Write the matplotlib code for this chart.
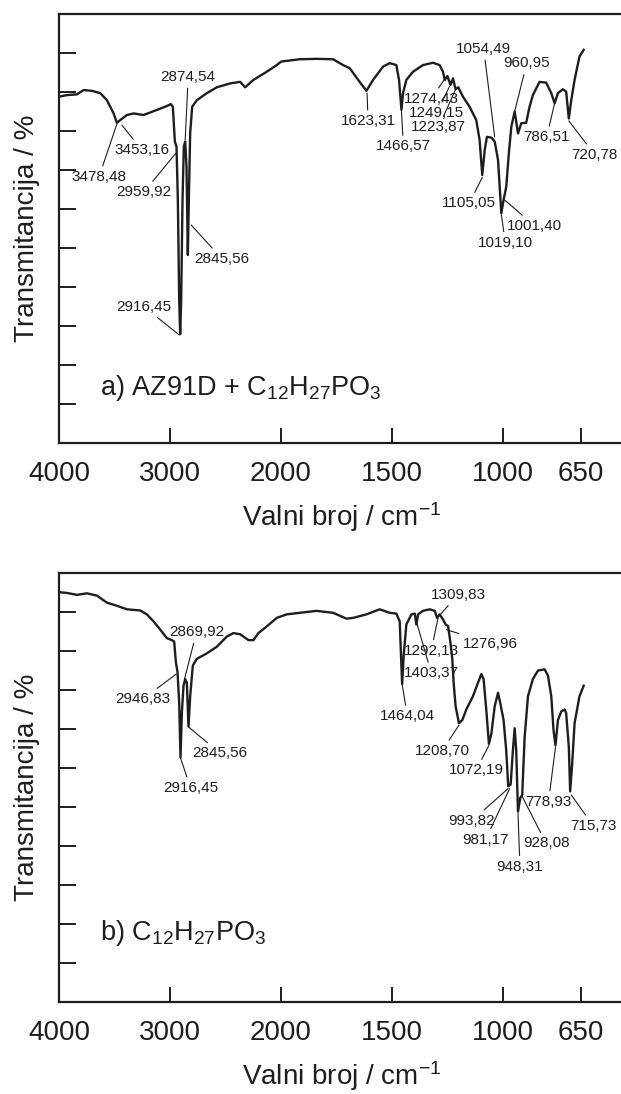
import numpy as np
import matplotlib
matplotlib.use("Agg")
import matplotlib.pyplot as plt

plt.rcParams["font.family"] = "Liberation Sans"
plt.rcParams["mathtext.fontset"] = "custom"
plt.rcParams["mathtext.rm"] = "Liberation Sans"
plt.rcParams["mathtext.it"] = "Liberation Sans:italic"
plt.rcParams["mathtext.bf"] = "Liberation Sans:bold"

INK = "#1e1e1e"

# --- spectrum a) AZ91D + C12H27PO3 (wavenumber / cm-1, transmittance in axis units) ---
wn_a = [4000, 3928, 3838, 3778, 3703, 3628, 3568, 3508, 3478, 3448, 3388, 3328, 3238, 3118,
        3028, 2992, 2974, 2956, 2941, 2929, 2917, 2908, 2899, 2887, 2875, 2863, 2851, 2839,
        2830, 2818, 2800, 2758, 2668, 2578, 2458, 2368, 2323, 2248, 2128, 2038, 1999, 1915,
        1840, 1765, 1720, 1690, 1652, 1615, 1585, 1540, 1510, 1480, 1468, 1457, 1450, 1435,
        1405, 1360, 1315, 1285, 1270, 1262, 1250, 1236, 1225, 1213, 1201, 1180, 1150, 1120,
        1105, 1093, 1082, 1072, 1052, 1037, 1022, 1007, 997, 985, 972, 962, 947, 932, 917,
        895, 880, 865, 835, 805, 782, 767, 752, 730, 715, 703, 692, 677, 655, 636]
tr_a = [8.88, 8.92, 8.94, 9.05, 9.03, 8.97, 8.79, 8.45, 8.21, 8.28, 8.41, 8.45, 8.41, 8.54,
        8.64, 8.69, 8.62, 7.73, 7.60, 6.23, 3.67, 2.79, 3.67, 6.23, 7.60, 7.73, 7.09, 4.82,
        6.23, 7.94, 8.62, 8.79, 8.97, 9.12, 9.22, 9.26, 9.12, 9.31, 9.52, 9.69, 9.78, 9.84,
        9.85, 9.84, 9.69, 9.61, 9.31, 9.03, 9.31, 9.65, 9.74, 9.69, 9.31, 8.54, 8.97, 9.31,
        9.52, 9.69, 9.75, 9.69, 9.52, 9.31, 9.41, 9.18, 9.35, 9.07, 9.12, 8.88, 8.62, 8.28,
        7.77, 6.87, 7.51, 7.85, 7.83, 7.73, 7.26, 5.89, 6.23, 6.57, 7.51, 8.11, 8.50, 7.94, 8.20,
        8.21, 8.62, 8.92, 9.26, 9.24, 8.97, 8.71, 8.97, 9.07, 9.01, 8.32, 8.79, 9.31, 9.91, 10.08]

# --- spectrum b) C12H27PO3 ---
wn_b = [4000, 3928, 3838, 3748, 3658, 3568, 3478, 3388, 3268, 3208, 3148, 3088, 3028, 2983,
        2962, 2947, 2932, 2917, 2905, 2893, 2878, 2863, 2848, 2833, 2818, 2794, 2758, 2668,
        2578, 2488, 2428, 2368, 2293, 2248, 2203, 2128, 2038, 1974, 1915, 1840, 1765, 1705,
        1675, 1615, 1555, 1510, 1480, 1465, 1454, 1447, 1435, 1412, 1397, 1390, 1382, 1360,
        1330, 1307, 1297, 1285, 1270, 1258, 1247, 1237, 1228, 1222, 1213, 1198, 1183, 1165,
        1135, 1112, 1097, 1087, 1075, 1063, 1052, 1037, 1022, 1012, 997, 985, 976, 965, 955,
        947, 940, 932, 922, 913, 902, 887, 865, 842, 812, 797, 782, 772, 763, 752, 737, 722,
        715, 703, 697, 688, 677, 655, 636]
tr_b = [10.51, 10.49, 10.44, 10.48, 10.42, 10.24, 10.16, 10.07, 10.04, 9.94, 9.76, 9.55, 9.33,
        9.28, 9.24, 8.72, 8.46, 7.67, 6.27, 7.41, 8.11, 8.28, 8.19, 7.06, 7.84, 8.63, 8.80,
        8.94, 9.11, 9.37, 9.46, 9.43, 9.28, 9.28, 9.46, 9.63, 9.85, 9.94, 9.98, 10.03, 9.98,
        9.83, 9.85, 9.94, 10.07, 9.98, 9.96, 9.76, 8.15, 8.89, 9.68, 9.94, 9.96, 9.68, 9.94,
        10.03, 10.07, 10.03, 9.85, 9.94, 9.81, 9.68, 9.64, 9.24, 8.80, 8.19, 7.58, 7.15, 7.23,
        7.50, 7.84, 8.19, 8.41, 8.28, 7.50, 6.62, 6.88, 7.58, 7.93, 7.67, 7.23, 6.45, 5.53,
        5.58, 6.45, 7.02, 6.45, 4.88, 5.23, 5.31, 6.80, 7.84, 8.28, 8.50, 8.53, 8.37, 7.84,
        6.97, 6.58, 7.23, 7.45, 7.50, 7.41, 6.54, 5.40, 6.10, 7.15, 7.84, 8.11]

# peak labels: text, point on the curve (wn, T), text offset in pixels
peaks_a = ["2874,54", "3453,16", "3478,48", "2959,92", "2845,56", "2916,45", "1623,31",
           "1466,57", "1274,43", "1249,15", "1223,87", "1054,49", "960,95", "1105,05",
           "1001,40", "1019,10", "786,51", "720,78"]
peak_wn_a = [2863, 3433, 3478, 2947, 2809, 2917, 1612, 1457, 1265, 1240, 1213, 1037, 947,
             1093, 992, 1007, 767, 703]
peak_tr_a = [7.77, 8.15, 8.18, 7.43, 5.59, 2.77, 8.97, 8.50, 9.31, 9.15, 9.07, 7.85, 8.50,
             6.81, 6.23, 5.85, 8.71, 8.26]
offs_a = [(3, 63), (20, -25), (-18, -53), (-32, -39), (31, -34), (-35, 28), (1, -28),
          (2, -35), (-13, -19), (-13, -27), (-17, -38), (-11, 88), (12, 48), (-13, -26),
          (30, -26), (4, -28), (-8, -34), (26, -34)]

peaks_b = ["2869,92", "2946,83", "2845,56", "2916,45", "1309,83", "1276,96", "1292,13",
           "1403,37", "1464,04", "1208,70", "1072,19", "993,82", "981,17", "948,31",
           "928,08", "778,93", "715,73"]
peak_wn_b = [2869, 2944, 2827, 2905, 1288, 1255, 1292, 1390, 1453, 1198, 1063, 977, 970,
             932, 913, 763, 692]
peak_tr_b = [8.28, 8.41, 7.04, 6.26, 9.90, 9.55, 9.85, 9.76, 8.12, 7.10, 6.58, 5.47, 5.47,
             4.83, 5.27, 6.54, 5.31]
offs_b = [(12, 47), (-33, -25), (31, -26), (10, -30), (19, 21), (44, -14), (-7, -33),
          (15, -52), (5, -31), (-17, -26), (-13, -25), (-36, -32), (-24, -51), (2, -53),
          (24, -47), (-7, -55), (22, -31)]

xticks = [4000, 3000, 2000, 1500, 1000, 650]
titles = ["a) AZ91D + C$_{12}$H$_{27}$PO$_{3}$", "b) C$_{12}$H$_{27}$PO$_{3}$"]


# wavenumber axis: 2x stretched below 2000 cm-1
def fwd(w):
    w = np.asarray(w, float)
    return np.where(w >= 2000, w, 2000 - 2 * (2000 - w))


def inv(u):
    u = np.asarray(u, float)
    return np.where(u >= 2000, u, 2000 - (2000 - u) / 2)


fig = plt.figure(figsize=(6.21, 10.94), dpi=100)
ax_a = fig.add_axes([0.0950, 0.5951, 0.9114, 0.3921])
ax_b = fig.add_axes([0.0950, 0.0841, 0.9114, 0.3921])

panels = [
    (ax_a, wn_a, tr_a, peaks_a, peak_wn_a, peak_tr_a, offs_a, titles[0], 0.112),
    (ax_b, wn_b, tr_b, peaks_b, peak_wn_b, peak_tr_b, offs_b, titles[1], 0.145),
]

for ax, wn, tr, labs, pw, pt, offs, title, ty in panels:
    ax.plot(wn, tr, color=INK, lw=1.7, solid_joinstyle="round")
    ax.set_xscale("function", functions=(fwd, inv))
    ax.set_xlim(4000, 450)
    ax.set_ylim(0, 11)
    ax.set_xticks(xticks)
    ax.set_xticklabels([str(t) for t in xticks])
    ax.set_yticks(range(1, 11))
    ax.minorticks_off()
    ax.tick_params(axis="x", direction="in", length=11, width=1.4, colors=INK,
                   labelsize=20, pad=13, top=False)
    ax.tick_params(axis="y", direction="in", length=12, width=1.4, colors=INK,
                   labelleft=False, right=False)
    for sp in ax.spines.values():
        sp.set_linewidth(1.6)
        sp.set_color(INK)
    ax.set_ylabel("Transmitancija / %", fontsize=20, labelpad=14, color=INK)
    ax.set_xlabel("Valni broj / cm$^{-1}$", fontsize=20, labelpad=9.5, color=INK)
    ax.text(0.072, ty, title, transform=ax.transAxes, fontsize=19.5, color=INK,
            va="baseline", ha="left")
    for lab, w, t, (dx, dy) in zip(labs, pw, pt, offs):
        ax.annotate(lab, xy=(w, t), xytext=(dx, dy), textcoords="offset pixels",
                    ha="center", va="center", fontsize=11, color=INK,
                    arrowprops=dict(arrowstyle="-", lw=0.8, color=INK,
                                    shrinkA=1, shrinkB=0))

fig.savefig("out.png", dpi=100)
